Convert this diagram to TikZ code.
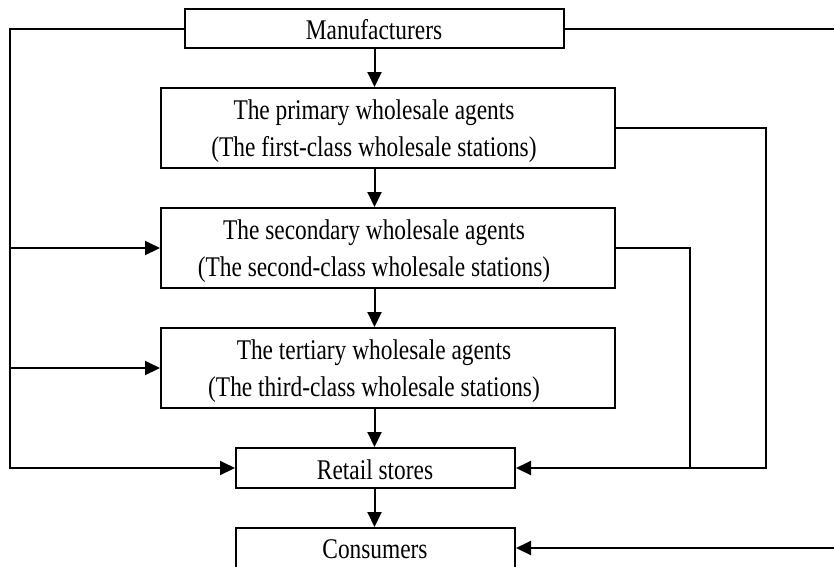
\documentclass[tikz,border=0pt]{standalone}
\usepackage{fontspec}
\setmainfont{Liberation Serif}[FakeStretch=0.82]
\usetikzlibrary{arrows.meta}
\begin{document}
\begin{tikzpicture}[x=1pt,y=-1pt,
  box/.style={draw,line width=2pt,inner sep=0pt},
  lbl/.style={font=\fontsize{28.5}{37}\selectfont,anchor=base,inner sep=0pt},
  conn/.style={line width=2pt},
  arr/.style={conn,-{Triangle[length=15pt,width=14pt]}}]
\useasboundingbox (0,0) rectangle (834,566);
\clip (0,0) rectangle (834,566);
% boxes
\node[box,minimum width=379pt,minimum height=39pt] (man) at (374.5,28.5) {};
\node[box,minimum width=454pt,minimum height=80pt] (pri) at (388,128) {};
\node[box,minimum width=454pt,minimum height=80pt] (sec) at (388,248) {};
\node[box,minimum width=454pt,minimum height=80pt] (ter) at (388,368) {};
\node[box,minimum width=279pt,minimum height=40pt] (ret) at (375.5,468) {};
\node[box,minimum width=279pt,minimum height=44pt] (con) at (375.5,550) {};
% texts
\node[lbl] (tman) at (374,39) {Manufacturers};
\node[lbl] (tpri1) at (374,119) {The primary wholesale agents};
\node[lbl] (tpri2) at (374,156) {(The first-class wholesale stations)};
\node[lbl] (tsec1) at (374,239) {The secondary wholesale agents};
\node[lbl] (tsec2) at (374,276) {(The second-class wholesale stations)};
\node[lbl] (tter1) at (374,359) {The tertiary wholesale agents};
\node[lbl] (tter2) at (374,396) {(The third-class wholesale stations)};
\node[lbl] (tret) at (375,479) {Retail stores};
\node[lbl] (tcon) at (375,558) {Consumers};
% vertical chain
\draw[arr] (man.south) -- (man.south |- pri.north);
\draw[arr] (man.south |- pri.south) -- (man.south |- sec.north);
\draw[arr] (man.south |- sec.south) -- (man.south |- ter.north);
\draw[arr] (man.south |- ter.south) -- (man.south |- ret.north);
\draw[arr] (man.south |- ret.south) -- (man.south |- con.north);
% left bus
\coordinate (lc) at (10,468);
\coordinate (ls) at (10,248);
\coordinate (lt) at (10,368);
\draw[arr] (man.west) -| (lc) -- (ret.west);
\draw[arr] (ls) -- (sec.west);
\draw[arr] (lt) -- (ter.west);
% right bus
\coordinate (r1) at (766,468);
\coordinate (r2) at (690,468);
\draw[arr] (pri.east) -| (r1) -- (ret.east);
\draw[conn] (sec.east) -| (r2);
\coordinate (tr) at (836,28.5);
\draw[conn] (man.east) -- (tr);
\coordinate (br) at (836,548);
\draw[arr] (br) -- (con.east |- br);
\end{tikzpicture}
\end{document}
